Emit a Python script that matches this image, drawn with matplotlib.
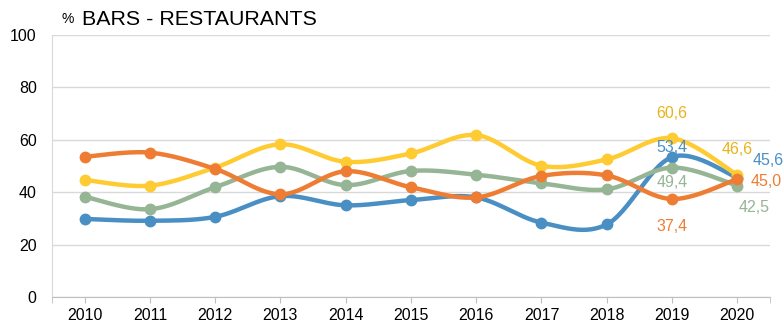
import numpy as np
import matplotlib
matplotlib.use("Agg")
import matplotlib.pyplot as plt

plt.rcParams['font.family'] = ['Liberation Sans', 'DejaVu Sans']

years = ['2010', '2011', '2012', '2013', '2014', '2015', '2016', '2017', '2018', '2019', '2020']

# series, drawn bottom to top
blue = [29.8, 29.1, 30.6, 38.5, 35.0, 37.0, 38.0, 28.4, 27.7, 53.4, 45.6]
green = [38.3, 33.5, 41.9, 49.7, 42.7, 48.1, 46.7, 43.4, 41.1, 49.4, 42.5]
yellow = [44.7, 42.5, 49.4, 58.3, 51.6, 54.8, 61.8, 50.1, 52.5, 60.6, 46.6]
orange = [53.5, 55.1, 48.9, 39.2, 48.0, 41.9, 38.0, 46.2, 46.4, 37.4, 45.0]

series = [
    (blue, '#4A8FC4', '#4A8FC4', [(9, (0, 7)), (10, (22, 12))]),
    (green, '#95B595', '#95B595', [(9, (0, -11)), (10, (12, -16))]),
    (yellow, '#FFCB33', '#E8B21C', [(9, (0, 18)), (10, (0, 18))]),
    (orange, '#EE7D33', '#EE7D33', [(9, (0, -19.5)), (10, (21, -2))]),
]


def smooth(x, y, n=30):
    # Bezier curve through every point, Excel-style smoothing
    x = np.asarray(x, float)
    y = np.asarray(y, float)
    px = np.concatenate([[x[0]], x, [x[-1]]])
    py = np.concatenate([[y[0]], y, [y[-1]]])
    xs, ys = [], []
    t = np.linspace(0, 1, n)
    for i in range(len(x) - 1):
        p0 = np.array([px[i + 1], py[i + 1]])
        p3 = np.array([px[i + 2], py[i + 2]])
        c1 = p0 + (np.array([px[i + 2], py[i + 2]]) - np.array([px[i], py[i]])) / 6
        c2 = p3 - (np.array([px[i + 3], py[i + 3]]) - np.array([px[i + 1], py[i + 1]])) / 6
        b = ((1 - t) ** 3)[:, None] * p0 + (3 * (1 - t) ** 2 * t)[:, None] * c1 \
            + (3 * (1 - t) * t ** 2)[:, None] * c2 + (t ** 3)[:, None] * p3
        xs.append(b[:, 0])
        ys.append(b[:, 1])
    return np.concatenate(xs), np.concatenate(ys)


fig = plt.figure(figsize=(7.84, 3.24), dpi=100)
ax = fig.add_axes([0.0663, 0.0833, 0.9157, 0.8087])

x = np.arange(len(years))
for k, (vals, col, lab_col, labels) in enumerate(series):
    sx, sy = smooth(x, vals)
    ax.plot(sx, sy, color=col, lw=3.2, solid_capstyle='round', zorder=3 + k)
    ax.plot(x, vals, 'o', color=col, ms=7.5, zorder=3 + k)
    for idx, (dx, dy) in labels:
        ax.annotate(f"{vals[idx]:.1f}".replace('.', ','), (x[idx], vals[idx]),
                    xytext=(dx, dy), textcoords='offset points',
                    ha='center', va='center', fontsize=11.5, color=lab_col,
                    annotation_clip=False, zorder=10)

ax.set_xlim(-0.5, len(years) - 0.5)
ax.set_ylim(0, 100)
ax.set_yticks(range(0, 101, 20))
ax.set_xticks(x)
ax.set_xticklabels(years)
ax.set_xticks([-0.5, len(years) - 0.5], minor=True)
ax.grid(axis='y', color='#D9D9D9', lw=1)
ax.set_axisbelow(True)
for s in ['top', 'right']:
    ax.spines[s].set_visible(False)
ax.spines['left'].set_color('#D9D9D9')
ax.spines['bottom'].set_color('#BFBFBF')
ax.tick_params(axis='y', length=0, labelsize=11.5, pad=11)
ax.tick_params(axis='x', which='both', length=4, color='#BFBFBF', labelsize=11.5, pad=4)

fig.text(0.079, 0.94, '%', fontsize=10, va='center', ha='left')
fig.text(0.105, 0.94, 'BARS - RESTAURANTS', fontsize=15.4, va='center', ha='left')

fig.savefig('out.png', dpi=100)
